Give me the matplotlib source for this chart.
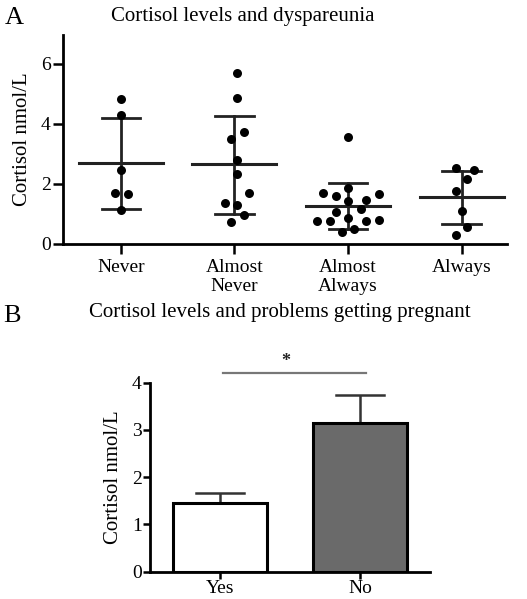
import matplotlib
matplotlib.use("Agg")
import matplotlib.pyplot as plt
import numpy as np

plt.rcParams['font.family'] = ['Liberation Serif', 'DejaVu Serif']

# ---- Panel A data ----
cats_a = ["Never", "Almost\nNever", "Almost\nAlways", "Always"]
never = [4.81, 4.29, 2.45, 1.69, 1.66, 1.14]
never_dx = [0.0, 0.0, 0.0, -0.05, 0.06, 0.0]
almost_never = [5.67, 4.86, 3.72, 3.50, 2.80, 2.34, 1.69, 1.38, 1.30, 0.97, 0.73]
almost_never_dx = [0.02, 0.02, 0.08, -0.03, 0.02, 0.02, 0.13, -0.08, 0.02, 0.08, -0.03]
almost_always = [3.56, 1.85, 1.71, 1.60, 1.67, 1.43, 1.47, 1.17, 1.05, 0.88, 0.76, 0.76, 0.76, 0.80, 0.50, 0.40]
almost_always_dx = [0.0, 0.0, -0.22, -0.11, 0.27, 0.0, 0.16, 0.11, -0.11, 0.0, -0.27, -0.16, 0.16, 0.27, 0.05, -0.05]
always = [2.52, 2.46, 2.17, 1.77, 1.09, 0.55, 0.31]
always_dx = [-0.05, 0.11, 0.05, -0.05, 0.0, 0.05, -0.05]
means_a = [2.69, 2.65, 1.25, 1.56]
sd_hi_a = [4.20, 4.27, 2.04, 2.44]
sd_lo_a = [1.16, 1.01, 0.50, 0.66]

# ---- Panel B data ----
cats_b = ["Yes", "No"]
means_b = [1.45, 3.15]
err_b = [0.21, 0.59]
bar_colors = ["white", "#6a6a6a"]

W, H = 527, 599
fig = plt.figure(figsize=(W / 100, H / 100), dpi=100)

# ===== Panel A =====
axA = fig.add_axes([63 / W, 1 - 244 / H, 444 / W, (244 - 35) / H])
groups = [never, almost_never, almost_always, always]
dxs = [never_dx, almost_never_dx, almost_always_dx, always_dx]
for i, (vals, dx) in enumerate(zip(groups, dxs)):
    xs = i + np.array(dx)
    axA.scatter(xs, vals, s=42, color="black", zorder=3, linewidths=0)
    axA.plot([i - 0.37, i + 0.37], [means_a[i], means_a[i]], color="#222222", lw=2.2, zorder=2)
    axA.plot([i, i], [sd_lo_a[i], sd_hi_a[i]], color="#222222", lw=2.0, zorder=2)
    for v in (sd_lo_a[i], sd_hi_a[i]):
        axA.plot([i - 0.17, i + 0.17], [v, v], color="#222222", lw=2.0, zorder=2)

axA.set_xlim(-0.51, 3.40)
axA.set_ylim(0, 6.95)
axA.set_yticks([0, 2, 4, 6])
axA.set_xticks(range(4))
axA.set_xticklabels(cats_a, fontsize=14, linespacing=1.15)
axA.tick_params(axis='y', labelsize=14, width=1.8, length=7, direction='out', pad=2)
axA.tick_params(axis='x', width=1.8, length=7, direction='out', pad=4)
for s in ("top", "right"):
    axA.spines[s].set_visible(False)
for s in ("left", "bottom"):
    axA.spines[s].set_linewidth(2.0)
axA.set_ylabel("Cortisol nmol/L", fontsize=15, labelpad=6)
fig.text(243 / W, 1 - 16 / H, "Cortisol levels and dyspareunia", fontsize=15,
         ha="center", va="center")
fig.text(14 / W, 1 - 18 / H, "A", fontsize=19, ha="center", va="center")

# ===== Panel B =====
axB = fig.add_axes([150 / W, 1 - 571.7 / H, 280 / W, (571.7 - 382.7) / H])
xb = np.arange(len(cats_b))
axB.bar(xb, means_b, width=0.665, color=bar_colors, edgecolor="black", linewidth=2.2, zorder=2)
axB.errorbar(xb, means_b, yerr=[[0, 0], err_b], fmt="none", ecolor="#333333",
             elinewidth=1.8, capsize=0, zorder=1)
for i in range(len(cats_b)):
    top = means_b[i] + err_b[i]
    axB.plot([i - 0.17, i + 0.17], [top, top], color="#333333", lw=1.8, zorder=1)
axB.set_xlim(-0.5, 1.5)
axB.set_ylim(0, 4)
axB.set_yticks([0, 1, 2, 3, 4])
axB.set_xticks(xb)
axB.set_xticklabels(cats_b, fontsize=14)
axB.tick_params(axis='y', labelsize=14, width=1.8, length=5, direction='out', pad=1)
axB.tick_params(axis='x', width=1.8, length=5, direction='out', pad=1)
for s in ("top", "right"):
    axB.spines[s].set_visible(False)
for s in ("left", "bottom"):
    axB.spines[s].set_linewidth(2.0)
axB.set_ylabel("Cortisol nmol/L", fontsize=15, labelpad=6)
axB.plot([0.02, 1.045], [4.21, 4.21], color="#777777", lw=1.6, clip_on=False)
axB.text(0.47, 4.45, "*", fontsize=13, ha="center", va="center", color="#222222",
         fontweight="bold")
fig.text(280 / W, 1 - 313 / H, "Cortisol levels and problems getting pregnant", fontsize=15,
         ha="center", va="center")
fig.text(12 / W, 1 - 316 / H, "B", fontsize=19, ha="center", va="center")

fig.savefig("out.png", dpi=100, facecolor="white")
